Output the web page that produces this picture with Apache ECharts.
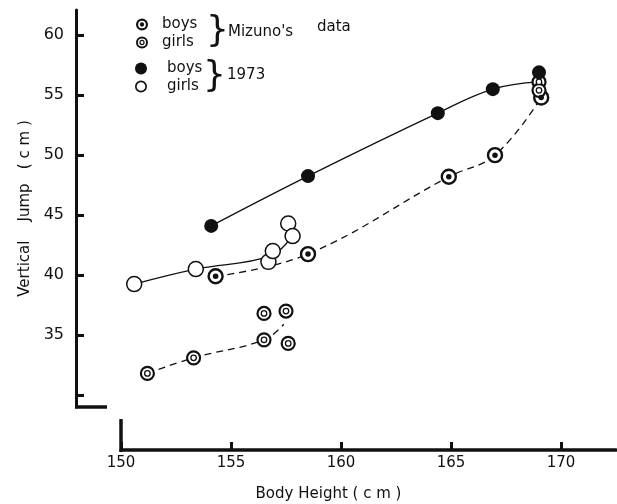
<!DOCTYPE html>
<html>
<head>
<meta charset="utf-8">
<script src="https://cdn.jsdelivr.net/npm/echarts@6/dist/echarts.min.js"></script>
<style>
  html, body { margin: 0; padding: 0; background: #fff; }
  #chart { width: 617px; height: 504px; }
</style>
</head>
<body>
<div id="chart"></div>
<script>
// points: [body height cm, vertical jump cm]
const mizunoBoys = [[154.3, 39.9], [158.5, 41.75], [164.9, 48.2], [167.0, 50.0], [169.1, 54.8]];
const mizunoGirls = [[151.2, 31.8], [153.3, 33.1], [156.5, 34.6], [156.5, 36.8], [157.5, 37.0], [157.6, 34.3], [169.0, 56.1], [169.0, 55.4]];
const boys1973 = [[154.1, 44.1], [158.5, 48.25], [164.4, 53.5], [166.9, 55.5], [169.0, 56.9]];
const girls1973 = [[150.6, 39.25], [153.4, 40.5], [156.7, 41.1], [156.9, 42.0], [157.6, 44.3], [157.8, 43.25]];

// hand drawn curves
const boys1973Curve = [[154.1, 44.1], [158.5, 48.25], [164.4, 53.5], [166.9, 55.5], [169.0, 56.1]];
const girls1973Curve = [[150.6, 39.25], [153.4, 40.5], [156.8, 41.6], [157.8, 43.3]];
const mizunoBoysCurve = [[154.3, 39.9], [158.5, 41.75], [164.9, 48.2], [167.0, 50.0], [169.1, 54.8]];
const mizunoGirlsCurve = [[151.2, 31.8], [153.3, 33.1], [156.5, 34.6], [157.4, 35.9]];

const xTicks = [150, 155, 160, 165, 170];
const yTicks = [30, 35, 40, 45, 50, 55, 60];
const yLabels = [35, 40, 45, 50, 55, 60];

const ink = '#111';
const font = 'DejaVu Sans';

// legend icons
const ringDot = 'path://M0,50A50,50,0,1,1,100,50A50,50,0,1,1,0,50ZM18,50A32,32,0,1,0,82,50A32,32,0,1,0,18,50ZM32,50A18,18,0,1,1,68,50A18,18,0,1,1,32,50Z';
const ringRing = 'path://M0,50A50,50,0,1,1,100,50A50,50,0,1,1,0,50ZM16,50A34,34,0,1,0,84,50A34,34,0,1,0,16,50ZM28,50A22,22,0,1,1,72,50A22,22,0,1,1,28,50ZM38,50A12,12,0,1,0,62,50A12,12,0,1,0,38,50Z';
const ringOnly = 'path://M0,50A50,50,0,1,1,100,50A50,50,0,1,1,0,50ZM14,50A36,36,0,1,0,86,50A36,36,0,1,0,14,50Z';

const chart = echarts.init(document.getElementById('chart'));

function curve(name, data, dashed) {
  return {
    name: name,
    type: 'line',
    data: data,
    smooth: 0.4,
    symbol: 'none',
    silent: true,
    z: 2,
    lineStyle: { color: ink, width: 1.3, type: dashed ? [7, 5] : 'solid' }
  };
}

const option = {
  backgroundColor: '#fff',
  animation: false,
  textStyle: { fontFamily: font, color: ink },
  grid: { left: 121, right: 1, top: 10, bottom: 97, containLabel: false, outerBoundsMode: 'none' },
  legend: [
    {
      left: 131, top: 12, orient: 'vertical',
      itemWidth: 12, itemHeight: 12, itemGap: 3,
      selectedMode: false,
      textStyle: { fontSize: 15, color: ink, padding: [0, 0, 0, 9] },
      formatter: name => name.split(' ')[1],
      data: [
        { name: 'Mizuno boys', icon: ringDot, itemStyle: { color: ink, borderWidth: 0 } },
        { name: 'Mizuno girls', icon: ringRing, itemStyle: { color: ink, borderWidth: 0 } }
      ]
    },
    {
      left: 130, top: 56, orient: 'vertical',
      itemWidth: 12, itemHeight: 12, itemGap: 3,
      selectedMode: false,
      textStyle: { fontSize: 15, color: ink, padding: [0, 0, 0, 15] },
      formatter: name => name.split(' ')[1],
      data: [
        { name: '1973 boys', icon: 'circle', itemStyle: { color: ink, borderWidth: 0 } },
        { name: '1973 girls', icon: ringOnly, itemStyle: { color: ink, borderWidth: 0 } }
      ]
    }
  ],
  xAxis: {
    type: 'value', min: 150, max: 172.5, offset: 43,
    name: 'Body Height ( c m )', nameLocation: 'middle', nameGap: 37,
    nameTextStyle: { fontSize: 15, color: ink, padding: [0, 80, 0, 0] },
    axisLine: { lineStyle: { color: ink, width: 3.5 } },
    axisTick: { inside: true, length: 8, customValues: xTicks, lineStyle: { color: ink, width: 3 } },
    axisLabel: { customValues: xTicks, margin: 6, fontSize: 15, color: ink },
    splitLine: { show: false }
  },
  yAxis: {
    type: 'value', min: 29, max: 62.1, offset: 45,
    name: 'Vertical    Jump   ( c m )', nameLocation: 'middle', nameGap: 37,
    nameTextStyle: { fontSize: 15, color: ink },
    axisLine: { lineStyle: { color: ink, width: 3 } },
    axisTick: { inside: true, length: 8, customValues: yTicks, lineStyle: { color: ink, width: 3 } },
    axisLabel: { customValues: yLabels, margin: 12, fontSize: 16, color: ink },
    splitLine: { show: false }
  },
  graphic: [
    // foot of the vertical axis and the start of the horizontal axis
    { type: 'line', shape: { x1: 75, y1: 407, x2: 107, y2: 407 }, style: { stroke: ink, lineWidth: 3.5 } },
    { type: 'line', shape: { x1: 121, y1: 419, x2: 121, y2: 452 }, style: { stroke: ink, lineWidth: 3.5 } },
    { type: 'text', left: 206, top: 14, style: { text: '}', font: '36px ' + font, fill: ink } },
    { type: 'text', left: 228, top: 25, style: { text: "Mizuno's", font: '15px ' + font, fill: ink } },
    { type: 'text', left: 317, top: 20, style: { text: 'data', font: '15px ' + font, fill: ink } },
    { type: 'text', left: 203, top: 59, style: { text: '}', font: '36px ' + font, fill: ink } },
    { type: 'text', left: 227, top: 68, style: { text: '1973', font: '15px ' + font, fill: ink } }
  ],
  series: [
    curve('1973 boys', boys1973Curve, false),
    curve('1973 girls', girls1973Curve, false),
    curve('Mizuno boys', mizunoBoysCurve, true),
    curve('Mizuno girls', mizunoGirlsCurve, true),
    {
      name: 'Mizuno boys', type: 'scatter', data: mizunoBoys, symbol: 'circle', symbolSize: 14, z: 3,
      itemStyle: { color: '#fff', borderColor: ink, borderWidth: 2.4, opacity: 1 }
    },
    {
      name: 'Mizuno boys', type: 'scatter', data: mizunoBoys, symbol: 'circle', symbolSize: 5.5, z: 4,
      itemStyle: { color: ink, opacity: 1 }
    },
    {
      name: 'Mizuno girls', type: 'scatter', data: mizunoGirls, symbol: 'circle', symbolSize: 13, z: 3,
      itemStyle: { color: '#fff', borderColor: ink, borderWidth: 2.2, opacity: 1 }
    },
    {
      name: 'Mizuno girls', type: 'scatter', data: mizunoGirls, symbol: 'circle', symbolSize: 5.5, z: 4,
      itemStyle: { color: '#fff', borderColor: ink, borderWidth: 1.3, opacity: 1 }
    },
    {
      name: '1973 girls', type: 'scatter', data: girls1973, symbol: 'circle', symbolSize: 15, z: 3,
      itemStyle: { color: '#fff', borderColor: ink, borderWidth: 1.5, opacity: 1 }
    },
    {
      name: '1973 boys', type: 'scatter', data: boys1973, symbol: 'circle', symbolSize: 14, z: 3,
      itemStyle: { color: ink, opacity: 1 }
    }
  ]
};

chart.setOption(option);
</script>
</body>
</html>
